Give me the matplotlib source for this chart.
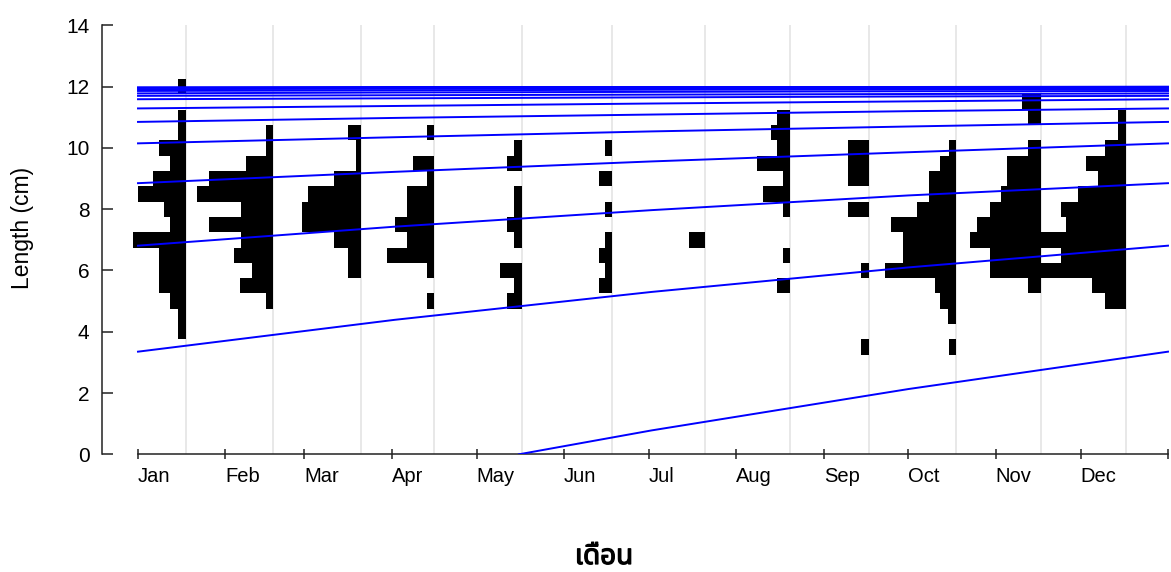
import numpy as np
import matplotlib
matplotlib.use("Agg")
import matplotlib.pyplot as plt
import matplotlib.patheffects as pe
from matplotlib import font_manager
from matplotlib.ft2font import FT2Font

# Sampling dates (day of year) and month boundaries
months = ["Jan", "Feb", "Mar", "Apr", "May", "Jun", "Jul", "Aug", "Sep", "Oct", "Nov", "Dec"]
month_starts = [0, 31, 59, 90, 120, 151, 181, 212, 243, 273, 304, 334, 365]
sample_days = [17, 48, 79, 105, 136, 168, 201, 231, 259, 290, 320, 350]

# Length classes (cm), 0.5 cm wide
length_bins = [3.5, 4.0, 4.5, 5.0, 5.5, 6.0, 6.5, 7.0, 7.5, 8.0, 8.5, 9.0, 9.5, 10.0, 10.5, 11.0, 11.5, 12.0]

# Frequencies per sample, one value per length class
freq_jan = [0, 8, 8, 16, 27, 27, 27, 53, 16, 22, 48, 33, 16, 27, 8, 8, 0, 8]
freq_feb = [0, 0, 0, 7, 33, 21, 39, 32, 65, 32, 77, 65, 27, 7, 7, 0, 0, 0]
freq_mar = [0, 0, 0, 0, 0, 13, 13, 27, 59, 59, 53, 27, 5, 5, 13, 0, 0, 0]
freq_apr = [0, 0, 0, 7, 0, 7, 47, 27, 39, 27, 27, 7, 21, 0, 7, 0, 0, 0]
freq_may = [0, 0, 0, 15, 8, 22, 0, 8, 15, 8, 8, 0, 15, 8, 0, 0, 0, 0]
freq_jun = [0, 0, 0, 0, 13, 7, 13, 7, 0, 7, 0, 13, 0, 7, 0, 0, 0, 0]
freq_jul = [0, 0, 0, 0, 0, 0, 0, 16, 0, 0, 0, 0, 0, 0, 0, 0, 0, 0]
freq_aug = [0, 0, 0, 0, 13, 0, 7, 0, 0, 7, 27, 7, 33, 13, 19, 13, 0, 0]
freq_sep = [8, 0, 0, 0, 0, 8, 0, 0, 0, 21, 0, 21, 21, 21, 0, 0, 0, 0]
freq_oct = [7, 0, 8, 16, 21, 71, 53, 53, 65, 39, 27, 27, 16, 7, 0, 0, 0, 0]
freq_nov = [0, 0, 0, 0, 13, 51, 51, 71, 64, 51, 40, 34, 34, 13, 0, 13, 19, 0]
freq_dec = [0, 0, 0, 21, 34, 92, 65, 95, 60, 65, 48, 28, 40, 21, 8, 8, 0, 0]

# Growth curves (length in cm) of each cohort over the year
growth_days = [0, 91, 182, 273, 365]
cohort_lengths = [
    [3.35, 4.39, 5.30, 6.10, 6.81],
    [6.81, 7.43, 7.97, 8.45, 8.85],
    [8.85, 9.22, 9.56, 9.86, 10.15],
    [10.15, 10.35, 10.54, 10.70, 10.85],
    [10.85, 10.98, 11.09, 11.20, 11.29],
    [11.29, 11.37, 11.45, 11.52, 11.59],
    [11.59, 11.62, 11.65, 11.68, 11.70],
    [11.70, 11.72, 11.74, 11.76, 11.78],
    [11.78, 11.81, 11.83, 11.85, 11.86],
    [11.86, 11.88, 11.90, 11.91, 11.92],
    [11.92, 11.93, 11.94, 11.95, 11.96],
    [11.96, 11.97, 11.97, 11.98, 11.98],
    [11.98, 11.99, 11.99, 11.99, 12.00],
]
recruit_days = [135, 182, 273, 365]
recruit_lengths = [0.0, 0.78, 2.13, 3.35]

bar_scale = 0.354  # days of x-axis per frequency unit


def thai_family():
    for name in ["Noto Sans Thai", "Noto Sans Thai UI", "Tahoma", "Leelawadee UI", "Loma", "Garuda"]:
        try:
            font_manager.findfont(name, fallback_to_default=False)
            return name
        except Exception:
            pass
    for f in font_manager.fontManager.ttflist:
        try:
            if 0x0E40 in FT2Font(f.fname).get_charmap():
                return f.name
        except Exception:
            pass
    return "DejaVu Sans"


plt.rcParams["font.family"] = ["Liberation Sans", "DejaVu Sans"]

W, H = 1171, 572
fig = plt.figure(figsize=(W / 100, H / 100), dpi=100)
x_left_px, x0_px, x_right_px = 102, 138, 1169
px_per_day = (1168 - x0_px) / 365
y0_px, y14_px = 454.3, 25.4
ax = fig.add_axes([x_left_px / W, 1 - y0_px / H, (x_right_px - x_left_px) / W, (y0_px - y14_px) / H])
ax.set_xlim(-(x0_px - x_left_px) / px_per_day, 365 + (x_right_px - 1168) / px_per_day)
ax.set_ylim(0, 14)

# sample date guide lines
ax.vlines(sample_days, 0, 14, color="#e8e8e8", lw=1.4, zorder=1)

samples = [freq_jan, freq_feb, freq_mar, freq_apr, freq_may, freq_jun,
           freq_jul, freq_aug, freq_sep, freq_oct, freq_nov, freq_dec]
for day, freq in zip(sample_days, samples):
    w = np.array(freq) * bar_scale
    ax.barh(length_bins, w, left=day - w, height=0.5, color="black", edgecolor="none", zorder=2)

for lengths in cohort_lengths:
    ax.plot(growth_days, lengths, color="#0000ff", lw=1.4, zorder=3)
ax.plot(recruit_days, recruit_lengths, color="#0000ff", lw=1.4, zorder=3)

for side in ["top", "right"]:
    ax.spines[side].set_visible(False)
ax.spines["left"].set_bounds(0, 14)
ax.spines["bottom"].set_bounds(0, 365)
for side in ["left", "bottom"]:
    ax.spines[side].set_linewidth(1.1)
    ax.spines[side].set_color("#222222")

ax.set_yticks(range(0, 15, 2))
ax.tick_params(axis="y", direction="in", length=8, width=1.1, pad=9, labelsize=15, color="#222222")
ax.set_xticks(month_starts)
ax.set_xticklabels(months + [""])
ax.tick_params(axis="x", direction="inout", length=7, width=1.1, pad=6, labelsize=14.5, color="#222222")
for lab in ax.get_xticklabels():
    lab.set_horizontalalignment("left")

ax.set_ylabel("Length (cm)", fontsize=16.5)
ax.yaxis.set_label_coords(-0.064, 0.528)

fig.text(604 / W, 1 - 557 / H, "เดือน", ha="center", va="center", fontsize=20,
         fontweight="bold", family=[thai_family(), "DejaVu Sans"],
         path_effects=[pe.withStroke(linewidth=0.9, foreground="black")])

fig.savefig("out.png", dpi=100)
